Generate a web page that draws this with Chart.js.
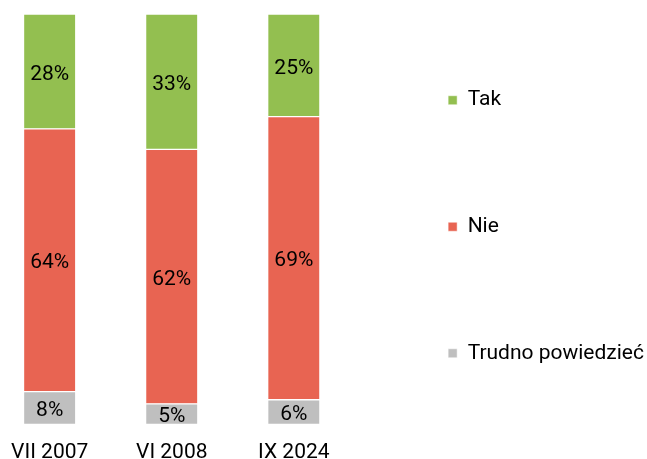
<!DOCTYPE html>
<html>
<head>
<meta charset="utf-8">
<script src="https://cdn.jsdelivr.net/npm/chart.js@4/dist/chart.umd.min.js"></script>
<style>
  html, body { margin: 0; padding: 0; background: #fff; }
  #wrap { width: 647px; height: 459px; }
</style>
</head>
<body>
<div id="wrap"><canvas id="pollChart"></canvas></div>
<script>
// Data
const categories = ['VII 2007', 'VI 2008', 'IX 2024'];
const tak = [28, 33, 25];
const nie = [64, 62, 69];
const trudno = [8, 5, 6];

const seriesNames = ['Trudno powiedzieć', 'Nie', 'Tak'];
const seriesColors = ['#BFBFBF', '#E86452', '#93BF50'];

const toPoints = arr => arr.map((v, i) => ({ x: i, y: v }));

// Labels inside the bar segments
const segmentLabels = {
    id: 'segmentLabels',
    afterDatasetsDraw(chart) {
        const ctx = chart.ctx;
        ctx.save();
        ctx.font = '21px Roboto';
        ctx.fillStyle = '#000';
        ctx.textAlign = 'center';
        ctx.textBaseline = 'middle';
        chart.data.datasets.forEach((ds, di) => {
            const meta = chart.getDatasetMeta(di);
            meta.data.forEach((bar, i) => {
                const p = bar.getProps(['x', 'y', 'base'], true);
                ctx.fillText(ds.data[i].y + '%', p.x, (p.y + p.base) / 2 + 3);
            });
        });
        ctx.restore();
    }
};

// Nudge the legend block into place
const legendShift = {
    id: 'legendShift',
    afterLayout(chart) {
        chart.legend.left += 7;
        chart.legend.top += 18;
        chart.legend.bottom += 18;
    }
};

const ctx = document.getElementById('pollChart').getContext('2d');
const pollChart = new Chart(ctx, {
    type: 'bar',
    data: {
        datasets: [
            { label: seriesNames[0], data: toPoints(trudno), backgroundColor: seriesColors[0] },
            { label: seriesNames[1], data: toPoints(nie), backgroundColor: seriesColors[1] },
            { label: seriesNames[2], data: toPoints(tak), backgroundColor: seriesColors[2] }
        ]
    },
    options: {
        responsive: true,
        maintainAspectRatio: false,
        animation: false,
        layout: { padding: { top: 14, bottom: 0, left: 0, right: 0 } },
        datasets: {
            bar: {
                barThickness: 51,
                borderColor: '#ffffff',
                borderWidth: { top: 1, bottom: 1, left: 0, right: 0 },
                borderSkipped: false
            }
        },
        scales: {
            x: {
                type: 'linear',
                stacked: true,
                offset: false,
                min: -0.407,
                max: 2.797,
                afterBuildTicks: scale => {
                    scale.ticks = categories.map((c, i) => ({ value: i }));
                },
                // ticks are not drawn, tickLength only makes the gap under the bars
                grid: { display: false, drawTicks: true, tickLength: 22 },
                border: { display: false },
                ticks: {
                    autoSkip: false,
                    maxRotation: 0,
                    padding: 0,
                    color: '#000',
                    font: { family: 'Roboto', size: 21, lineHeight: 0.6 },
                    callback: v => categories[v]
                }
            },
            y: {
                stacked: true,
                display: false,
                min: 0,
                max: 100
            }
        },
        plugins: {
            legend: {
                position: 'right',
                reverse: true,
                labels: {
                    boxWidth: 9,
                    boxHeight: 9,
                    padding: 50,
                    color: '#000',
                    font: { family: 'Roboto', size: 21, lineHeight: 3.643 },
                    // one-line arrays so each item gets the tall line height
                    generateLabels: chart => Chart.defaults.plugins.legend.labels.generateLabels(chart)
                        .map(item => Object.assign(item, { text: [item.text] }))
                }
            },
            tooltip: { enabled: false }
        }
    },
    plugins: [segmentLabels, legendShift]
});
</script>
</body>
</html>
